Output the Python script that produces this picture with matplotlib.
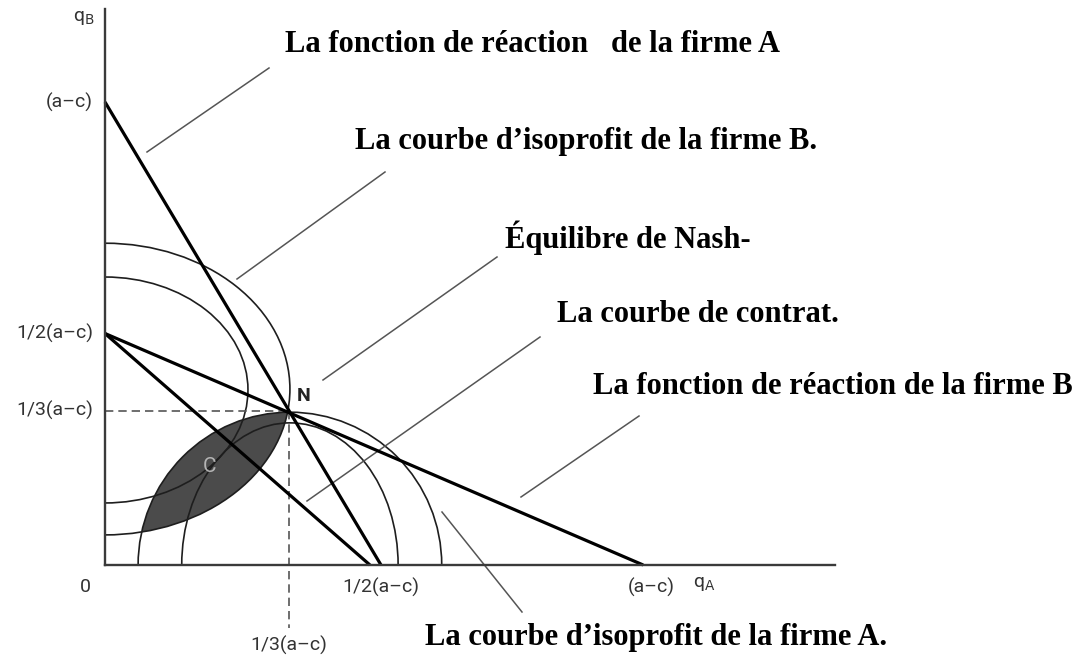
import matplotlib.pyplot as plt
from matplotlib.patches import Ellipse, Rectangle

# Valeurs en unités de (a-c) : qA en abscisse, qB en ordonnée
reaction_A_qA = [0, 0.5]
reaction_A_qB = [1, 0]
reaction_B_qA = [0, 0.975]
reaction_B_qB = [0.5, 0]
collusion_qA = [0, 0.48]
collusion_qB = [0.5, 0]
nash_qA = 1 / 3
nash_qB = 1 / 3

# courbes d'isoprofit de B (centrées sur l'axe qB) et de A (centrées sur l'axe qA)
iso_B_centre = [0.380, 0.378]
iso_B_rx = [0.335, 0.259]
iso_B_ry = [0.315, 0.244]
iso_A_centre = [0.335, 0.335]
iso_A_rx = [0.275, 0.196]
iso_A_ry = [0.330, 0.307]

y_ticks = [1, 0.5, 1 / 3]
y_labels = ["(a–c)", "1/2(a–c)", "1/3(a–c)"]
x_ticks = [0.5, 0.99]
x_labels = ["1/2(a–c)", "(a–c)"]

# position de l'origine et échelle (pixels par unité)
X0, Y0, SX, SY = 105, 565, 552, 463


def P(px, py):
    return (px - X0) / SX, (Y0 - py) / SY


fig = plt.figure(figsize=(10.89, 6.58), dpi=100)
ax = fig.add_axes([0, 0, 1, 1])
ax.set_xlim(-X0 / SX, (1089 - X0) / SX)
ax.set_ylim(-(658 - Y0) / SY, Y0 / SY)
ax.axis("off")

# axes
ax.plot([0, 0], [0, P(0, 9)[1]], color="#3a3a3a", lw=1.7, zorder=4)
ax.plot([0, P(835, 0)[0]], [0, 0], color="#3a3a3a", lw=1.7, zorder=4)

quadrant = Rectangle((0, 0), 5, 5, transform=ax.transData)

# zone grisée (lentille) entre les deux isoprofits passant par N
lens = Ellipse((iso_A_centre[0], 0), 2 * iso_A_rx[0], 2 * iso_A_ry[0],
               facecolor="#4b4b4b", edgecolor="none", zorder=1)
ax.add_patch(lens)
clip_B = Ellipse((0, iso_B_centre[0]), 2 * iso_B_rx[0], 2 * iso_B_ry[0],
                 transform=ax.transData)
lens.set_clip_path(clip_B)

for c, rx, ry in zip(iso_B_centre, iso_B_rx, iso_B_ry):
    e = Ellipse((0, c), 2 * rx, 2 * ry, fill=False, ec="#1e1e1e", lw=1.2, zorder=2)
    ax.add_patch(e)
    e.set_clip_path(quadrant)
for c, rx, ry in zip(iso_A_centre, iso_A_rx, iso_A_ry):
    e = Ellipse((c, 0), 2 * rx, 2 * ry, fill=False, ec="#1e1e1e", lw=1.2, zorder=2)
    ax.add_patch(e)
    e.set_clip_path(quadrant)

# fonctions de réaction et droite de collusion
for xs, ys in [(reaction_A_qA, reaction_A_qB), (reaction_B_qA, reaction_B_qB),
               (collusion_qA, collusion_qB)]:
    ax.plot(xs, ys, color="black", lw=2.3, solid_capstyle="butt", zorder=3)

# pointillés vers N
ax.plot([0, nash_qA], [nash_qB, nash_qB], ls=(0, (5, 3)), color="#555555", lw=1.2, zorder=2)
ax.plot([nash_qA, nash_qA], [nash_qB, P(0, 628)[1]], ls=(0, (5, 3)), color="#555555",
        lw=1.2, zorder=2)

# graduations
tick_font = dict(family="Roboto", fontsize=14, color="#333333")
for v, lab in zip(y_ticks, y_labels):
    ax.text(P(93, 0)[0], v, lab, ha="right", va="center", **tick_font)
for v, lab in zip(x_ticks, x_labels):
    ax.text(v, P(0, 587)[1], lab, ha="center", va="center", **tick_font)
ax.text(*P(85, 587), "0", ha="center", va="center", **tick_font)
ax.text(nash_qA, P(0, 645)[1], "1/3(a–c)", ha="center", va="center", **tick_font)
ax.text(*P(704, 584), "q$_\\mathsf{A}$", ha="center", va="center", **tick_font)
ax.text(*P(84, 18), "q$_\\mathsf{B}$", ha="center", va="center", **tick_font)
ax.text(*P(297, 396), "N", ha="left", va="center", family="Roboto", fontsize=14,
        fontweight="bold", color="#222222")
ax.text(*P(210, 467), "C", ha="center", va="center", family="Roboto", fontsize=15,
        color="#b5b5b5", zorder=3)

# légendes et traits de rappel
notes = [
    ("La fonction de réaction   de la firme A", (285, 45), (147, 152), (269, 68)),
    ("La courbe d’isoprofit de la firme B.", (355, 142), (237, 279), (385, 172)),
    ("Équilibre de Nash-", (505, 238), (323, 380), (497, 257)),
    ("La courbe de contrat.", (557, 315), (307, 501), (540, 337)),
    ("La fonction de réaction de la firme B", (593, 387), (521, 497), (639, 416)),
    ("La courbe d’isoprofit de la firme A.", (425, 637), (442, 512), (522, 612)),
]
for txt, pos, a, b in notes:
    ax.text(*P(*pos), txt, ha="left", va="center", family="Liberation Serif",
            fontweight="bold", fontsize=22, color="black")
    (x1, y1), (x2, y2) = P(*a), P(*b)
    ax.plot([x1, x2], [y1, y2], color="#555555", lw=1.1, zorder=2)

fig.savefig("out.png", dpi=100)
